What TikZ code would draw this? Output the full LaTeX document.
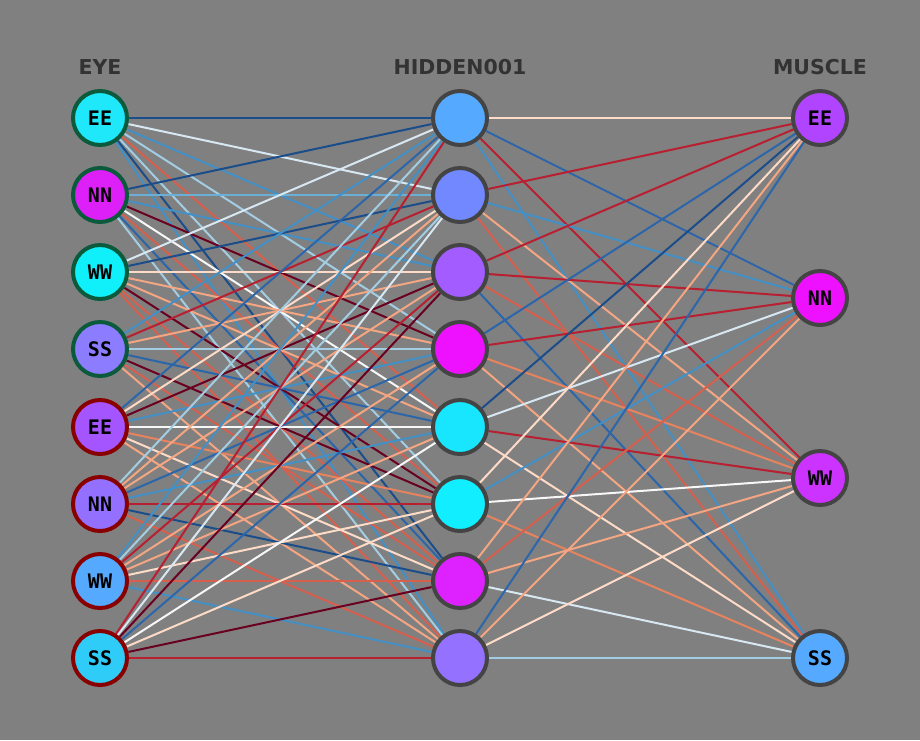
\documentclass[tikz,border=0pt]{standalone}
\usepackage{fontspec}
\setmainfont{DejaVu Sans}
\newfontfamily\labfont{DejaVu Sans Mono Bold}
\newfontfamily\headfont{DejaVu Sans Bold}
\pgfdeclarelayer{back}
\pgfdeclarelayer{bg}
\pgfsetlayers{back,bg,main}
\definecolor{bgc}{HTML}{808080}
\definecolor{navy}{HTML}{1C4D8B}
\definecolor{dblue}{HTML}{2B66AB}
\definecolor{mblue}{HTML}{4390C6}
\definecolor{hblue}{HTML}{6BAED6}
\definecolor{lblue}{HTML}{A3CDE3}
\definecolor{pblue}{HTML}{D8E8F2}
\definecolor{wht}{HTML}{F7F7F7}
\definecolor{ppeach}{HTML}{FDDBC7}
\definecolor{peach}{HTML}{F4A582}
\definecolor{salm}{HTML}{E8835F}
\definecolor{rd}{HTML}{D6604D}
\definecolor{crim}{HTML}{B81F30}
\definecolor{dred}{HTML}{6A0020}
\definecolor{gborder}{HTML}{0B5A3C}
\definecolor{rborder}{HTML}{880000}
\definecolor{nborder}{HTML}{444444}
\definecolor{headc}{HTML}{333333}
\tikzset{
  nd/.style={circle, minimum size=54pt, inner sep=0pt, line width=4pt,
    font=\labfont\fontsize{20}{20}\selectfont, text=black},
  inG/.style={nd, draw=gborder},
  inR/.style={nd, draw=rborder},
  hid/.style={nd, draw=nborder},
  ed/.style={line width=2pt},
  head/.style={font=\headfont\fontsize{20.5}{20.5}\selectfont, text=headc}
}
\begin{document}
\begin{tikzpicture}[x=1pt,y=-1pt]
\begin{pgfonlayer}{back}
\fill[bgc] (0,0) rectangle (920,740);
\end{pgfonlayer}
\useasboundingbox (0,0) rectangle (920,740);
% headers
\node[head] (hEye) at (100,67) {EYE};
\node[head] (hHid) at (460,67) {HIDDEN001};
\node[head] (hMus) at (820,67) {MUSCLE};
% input nodes
\node[inG, fill={rgb,255:red,30;green,232;blue,250}] (i0) at (100,118) {EE};
\node[inG, fill={rgb,255:red,221;green,31;blue,248}] (i1) at (100,195) {NN};
\node[inG, fill={rgb,255:red,15;green,240;blue,250}] (i2) at (100,272) {WW};
\node[inG, fill={rgb,255:red,140;green,124;blue,255}] (i3) at (100,349) {SS};
\node[inR, fill={rgb,255:red,165;green,85;blue,255}] (i4) at (100,427) {EE};
\node[inR, fill={rgb,255:red,147;green,112;blue,255}] (i5) at (100,504) {NN};
\node[inR, fill={rgb,255:red,85;green,170;blue,255}] (i6) at (100,581) {WW};
\node[inR, fill={rgb,255:red,48;green,204;blue,248}] (i7) at (100,658) {SS};
% hidden nodes
\node[hid, fill={rgb,255:red,85;green,170;blue,255}] (h0) at (460,118) {};
\node[hid, fill={rgb,255:red,114;green,136;blue,255}] (h1) at (460,195) {};
\node[hid, fill={rgb,255:red,162;green,92;blue,255}] (h2) at (460,272) {};
\node[hid, fill={rgb,255:red,238;green,17;blue,255}] (h3) at (460,349) {};
\node[hid, fill={rgb,255:red,24;green,230;blue,255}] (h4) at (460,427) {};
\node[hid, fill={rgb,255:red,16;green,238;blue,255}] (h5) at (460,504) {};
\node[hid, fill={rgb,255:red,221;green,34;blue,255}] (h6) at (460,581) {};
\node[hid, fill={rgb,255:red,148;green,114;blue,255}] (h7) at (460,658) {};
% output nodes
\node[hid, fill={rgb,255:red,176;green,68;blue,255}] (o0) at (820,118) {EE};
\node[hid, fill={rgb,255:red,238;green,17;blue,255}] (o1) at (820,298) {NN};
\node[hid, fill={rgb,255:red,204;green,51;blue,255}] (o2) at (820,478) {WW};
\node[hid, fill={rgb,255:red,85;green,170;blue,255}] (o3) at (820,658) {SS};
\begin{pgfonlayer}{bg}
% input -> hidden
\foreach \c [count=\j from 0] in {navy,pblue,mblue,lblue,rd,lblue,navy,mblue}
  \draw[ed,\c] (i0) -- (h\j);
\foreach \c [count=\j from 0] in {navy,hblue,mblue,dred,wht,rd,dblue,lblue}
  \draw[ed,\c] (i1) -- (h\j);
\foreach \c [count=\j from 0] in {pblue,navy,ppeach,peach,peach,dred,rd,rd}
  \draw[ed,\c] (i2) -- (h\j);
\foreach \c [count=\j from 0] in {mblue,crim,peach,lblue,dblue,dred,rd,peach}
  \draw[ed,\c] (i3) -- (h\j);
\foreach \c [count=\j from 0] in {dblue,ppeach,dred,mblue,wht,salm,ppeach,peach}
  \draw[ed,\c] (i4) -- (h\j);
\foreach \c [count=\j from 0] in {lblue,peach,peach,dblue,mblue,crim,navy,rd}
  \draw[ed,\c] (i5) -- (h\j);
\foreach \c [count=\j from 0] in {mblue,lblue,crim,peach,peach,ppeach,rd,mblue}
  \draw[ed,\c] (i6) -- (h\j);
\foreach \c [count=\j from 0] in {crim,pblue,dred,dblue,wht,ppeach,dred,crim}
  \draw[ed,\c] (i7) -- (h\j);
% hidden -> output
\foreach \c [count=\k from 0] in {ppeach,dblue,crim,mblue}
  \draw[ed,\c] (h0) -- (o\k);
\foreach \c [count=\k from 0] in {crim,mblue,peach,rd}
  \draw[ed,\c] (h1) -- (o\k);
\foreach \c [count=\k from 0] in {crim,crim,rd,dblue}
  \draw[ed,\c] (h2) -- (o\k);
\foreach \c [count=\k from 0] in {dblue,crim,salm,peach}
  \draw[ed,\c] (h3) -- (o\k);
\foreach \c [count=\k from 0] in {navy,pblue,crim,ppeach}
  \draw[ed,\c] (h4) -- (o\k);
\foreach \c [count=\k from 0] in {ppeach,mblue,wht,salm}
  \draw[ed,\c] (h5) -- (o\k);
\foreach \c [count=\k from 0] in {peach,rd,peach,pblue}
  \draw[ed,\c] (h6) -- (o\k);
\foreach \c [count=\k from 0] in {dblue,peach,ppeach,lblue}
  \draw[ed,\c] (h7) -- (o\k);
\end{pgfonlayer}
\end{tikzpicture}
\end{document}
